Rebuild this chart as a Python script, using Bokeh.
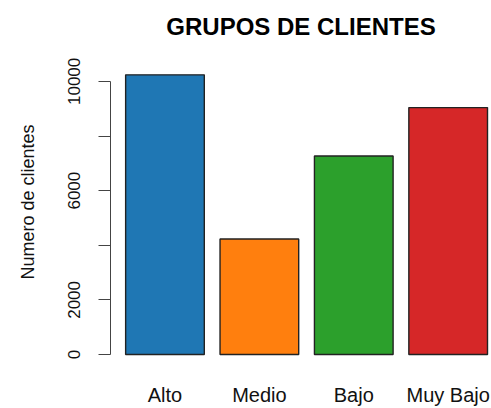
from bokeh.plotting import figure
from bokeh.models import Range1d, FixedTicker, ColumnDataSource
from bokeh.embed import file_html
from bokeh.resources import INLINE

categories = ["Alto", "Medio", "Bajo", "Muy Bajo"]
clientes = [10240, 4230, 7270, 9040]
colors = ["#1f77b4", "#ff7f0e", "#2ca02c", "#d62728"]
y_ticks = [0, 2000, 4000, 6000, 8000, 10000]
y_hidden = [4000, 8000]

xs = list(range(len(categories)))
src = ColumnDataSource(dict(x=xs, top=clientes, color=colors, cat=categories))

p = figure(width=491, height=408, output_backend="svg", toolbar_location=None,
           x_range=Range1d(-0.577, 3.459), y_range=Range1d(-73, 11241),
           min_border_left=110, min_border_right=0, min_border_top=47,
           min_border_bottom=51, title="GRUPOS DE CLIENTES")
p.outline_line_color = None
p.xgrid.visible = False
p.ygrid.visible = False
p.background_fill_color = "white"

p.title.align = "center"
p.title.offset = 4
p.title.text_font = "Liberation Sans"
p.title.text_font_size = "24px"
p.title.text_font_style = "bold"
p.title.text_color = "black"
p.title.standoff = 16

p.vbar(x="x", top="top", bottom=0, width=1/1.2, fill_color="color",
       line_color="#222222", line_width=1.4, source=src)

xa = p.xaxis[0]
xa.ticker = FixedTicker(ticks=xs)
xa.major_label_overrides = {i: c for i, c in zip(xs, categories)}
xa.axis_line_color = None
xa.major_tick_line_color = None
xa.minor_tick_line_color = None
xa.major_label_standoff = 21
xa.major_label_text_font = "Liberation Sans"
xa.major_label_text_font_size = "20px"
xa.major_label_text_color = "#111111"

ya = p.yaxis[0]
ya.ticker = FixedTicker(ticks=y_ticks)
ya.major_label_overrides = {t: ("" if t in y_hidden else str(t)) for t in y_ticks}
ya.bounds = (0, 10000)
ya.axis_line_color = "#444444"
ya.major_tick_line_color = "#444444"
ya.minor_tick_line_color = None
ya.major_tick_in = 0
ya.major_tick_out = 12
ya.major_label_orientation = "vertical"
ya.major_label_standoff = 18
ya.major_label_text_font = "Liberation Sans"
ya.major_label_text_font_size = "17px"
ya.major_label_text_color = "#111111"
ya.axis_label = "Numero de clientes"
ya.axis_label_text_font = "Liberation Sans"
ya.axis_label_text_font_size = "18px"
ya.axis_label_text_font_style = "normal"
ya.axis_label_text_color = "#111111"
ya.axis_label_standoff = 28

open("out.html", "w").write(file_html(p, INLINE))
